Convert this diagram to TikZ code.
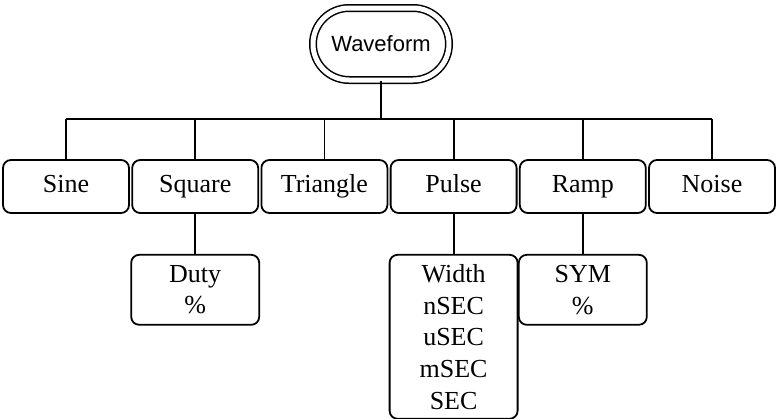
\documentclass[tikz,border=0pt]{standalone}
\usepackage{fontspec}
\setmainfont{Liberation Serif}
\newfontfamily\headfont{Liberation Sans}
\usetikzlibrary{positioning,shapes.misc}

\begin{document}
\begin{tikzpicture}[x=1pt, y=-1pt,
    boxbase/.style={draw, line width=1.8pt, rounded corners=8pt, inner sep=0pt,
        align=center, font=\fontsize{26}{31.7}\selectfont},
    menubox/.style={boxbase, minimum width=126pt, minimum height=53pt,
        text height=17pt, text depth=6pt},
    subbox/.style={boxbase, minimum width=128pt},
    link/.style={line width=1.8pt}]
    % Parameters
    \def\boxpitch{129.2} % Distance between menu boxes
    \def\rowy{186.5} % Height of the menu row

    \useasboundingbox (0,0) rectangle (778,418);

    % Top node
    \node[rounded rectangle, draw, double, double distance=5pt, line width=1.5pt,
        minimum width=136pt, minimum height=72pt, inner sep=0pt,
        font=\headfont\fontsize{22}{24}\selectfont] (wave) at (381,44) {Waveform};

    % Menu row
    \foreach \i/\name/\txt in {0/sine/Sine, 1/square/Square, 2/triangle/Triangle,
                               3/pulse/Pulse, 4/ramp/Ramp, 5/noise/Noise} {
        \node[menubox] (\name) at (66+\i*\boxpitch, \rowy) {\txt};
    }

    % Sub menus
    \node[subbox, minimum height=70pt, below=40pt of square] (duty) {Duty\\\%};
    \node[subbox, minimum height=164pt, below=40pt of pulse] (width) {Width\\nSEC\\uSEC\\mSEC\\SEC};
    \node[subbox, minimum height=70pt, below=40pt of ramp] (sym) {SYM\\\%};

    % Connectors
    \coordinate (bus) at (0,119);
    \draw[link] (wave.south) -- (wave.south |- bus);
    \draw[link] (sine.north |- bus) -- (noise.north |- bus);
    \foreach \name in {sine,square,triangle,pulse,ramp,noise} {
        \draw[link] (\name.north) -- (\name.north |- bus);
    }
    \draw[link] (square) -- (duty);
    \draw[link] (pulse) -- (width);
    \draw[link] (ramp) -- (sym);
\end{tikzpicture}
\end{document}
